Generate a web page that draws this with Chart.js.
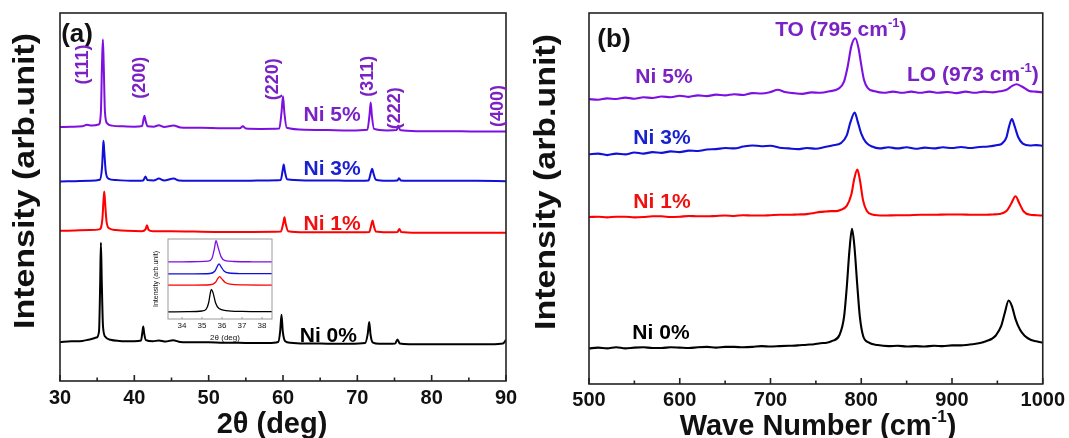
<!DOCTYPE html>
<html>
<head>
<meta charset="utf-8">
<script src="https://cdn.jsdelivr.net/npm/chart.js@4.4.0/dist/chart.umd.min.js"></script>
<style>
  body { margin: 0; background: #fff; }
  #wrap { position: relative; width: 1069px; height: 438px; }
  canvas { position: absolute; }
</style>
</head>
<body>
<div id="wrap">
  <canvas id="xrd" width="530" height="438" style="left:0;top:0"></canvas>
  <canvas id="raman" width="539" height="438" style="left:530px;top:0"></canvas>
  <canvas id="inset" width="142" height="118" style="left:138px;top:230px"></canvas>
</div>
<script>
// sample names, bottom to top
const samples = ['Ni 0%', 'Ni 1%', 'Ni 3%', 'Ni 5%'];
const millerIndex = ['(111)', '(200)', '(220)', '(311)', '(222)', '(400)'];

// XRD patterns [2theta, intensity (arb.)], offset stacked
const xrdNi0 = [[30,10.6],[31.5,10.8],[33,10.9],[34,11.3],[34.9,11.8],[35.25,13.5],[35.4,26],[35.5,37.6],[35.62,27],[35.78,15],[36.1,12],[36.8,11.2],[38,10.9],[40,10.8],[40.9,11],[41.1,13.5],[41.2,14.8],[41.32,13],[41.55,11.1],[42.5,10.8],[43.3,11.0],[44.2,10.7],[45.2,11.1],[46.2,10.6],[48,10.5],[50,10.5],[52,10.4],[54,10.4],[56,10.3],[58,10.3],[59.35,10.6],[59.62,13.5],[59.8,18.0],[59.97,13.5],[60.3,10.8],[61,10.4],[63,10.2],[65,10.2],[67,10.1],[69,10.1],[71.05,10.3],[71.4,12.8],[71.6,16.0],[71.78,12.5],[72.1,10.4],[73,10.1],[75.1,10.2],[75.4,11.3],[75.7,10.2],[77,10.0],[80,10.0],[83,10.0],[86,10.0],[88,10.0],[89.6,10.2],[90,11.2]];
const xrdNi1 = [[30,40.8],[32,40.9],[34,41.0],[35.3,41.2],[35.7,44],[35.85,49],[35.95,51.5],[36.05,49],[36.25,43.5],[36.6,41.5],[37.5,41.0],[39,40.8],[41,40.7],[41.5,41.2],[41.7,42.3],[41.9,41.1],[42.5,40.7],[45,40.7],[48,40.6],[52,40.5],[56,40.5],[59.7,40.6],[60.05,43],[60.2,44.5],[60.35,42.8],[60.7,40.7],[63,40.4],[66,40.4],[69,40.4],[71.6,40.5],[71.9,42.6],[72.05,43.6],[72.2,42.3],[72.5,40.6],[74,40.4],[75.4,40.5],[75.65,41.3],[75.9,40.5],[78,40.3],[82,40.3],[86,40.3],[90,40.3]];
const xrdNi3 = [[30,54.2],[32,54.3],[34,54.4],[35.35,54.7],[35.65,58],[35.78,63],[35.85,65.3],[35.95,62.5],[36.15,57],[36.5,55],[37.5,54.6],[39.5,54.4],[41.2,54.5],[41.5,55.6],[41.75,54.6],[42.6,54.5],[43.3,55.0],[44,54.5],[45.3,55.0],[46,54.5],[49,54.4],[52,54.4],[55,54.4],[58,54.5],[59.7,54.6],[59.95,57.2],[60.1,58.8],[60.25,57],[60.55,54.8],[63,54.5],[66,54.5],[69,54.4],[71.5,54.5],[71.8,56.5],[72.0,57.7],[72.15,56.6],[72.5,54.7],[74,54.4],[75.4,54.5],[75.6,55.1],[75.85,54.5],[78,54.4],[82,54.4],[86,54.4],[90,54.3]];
const xrdNi5 = [[30,69.0],[31.5,69.1],[33,69.2],[33.6,69.6],[34.3,69.4],[35.2,69.7],[35.5,73],[35.65,86],[35.77,92.8],[35.88,86],[36.05,73],[36.35,70],[37,69.4],[38.5,69.2],[40,69.1],[41.05,69.3],[41.25,71.3],[41.36,72.1],[41.5,70.8],[41.8,69.2],[42.6,69.1],[43.3,69.5],[44,69.0],[45.3,69.4],[46.2,68.9],[49,68.8],[52,68.7],[54.2,68.7],[54.6,69.2],[55,68.6],[57,68.5],[59.5,68.6],[59.8,73],[60.0,77.4],[60.18,73],[60.5,68.8],[63,68.3],[66,68.2],[69,68.1],[71.35,68.3],[71.65,72.5],[71.8,75.7],[71.95,72.2],[72.25,68.5],[74,68.1],[75.3,68.2],[75.5,69.4],[75.75,68.2],[78,67.9],[82,67.9],[86,67.8],[90,67.8]];

// inset: (111) peak region
const insetNi0 = [[33.3,8.8],[34.3,9.2],[35.0,10],[35.2,12],[35.33,20],[35.42,33],[35.47,37.1],[35.55,33],[35.68,20],[35.85,13],[36.2,10.5],[37,9.5],[38.5,9.2]];
const insetNi1 = [[33.3,42.3],[34.5,42.4],[35.4,42.8],[35.68,46],[35.8,51],[35.88,53],[35.98,50.5],[36.15,46],[36.4,43.5],[37,42.6],[38.5,42.4]];
const insetNi3 = [[33.3,56.3],[34.5,56.5],[35.4,56.9],[35.65,60],[35.78,66.5],[35.85,69],[35.95,65.5],[36.1,60],[36.35,57.5],[37,56.8],[38.5,56.6]];
const insetNi5 = [[33.3,71.3],[34,71.4],[34.8,71.7],[35.3,72.3],[35.5,76],[35.62,88],[35.7,98],[35.8,90],[35.95,78],[36.15,73],[36.6,71.9],[37.5,71.5],[38.5,71.3]];

// Raman spectra [wavenumber cm-1, intensity (arb.)]
const ramanNi0 = [[500,9.6],[510,9.8],[520,9.6],[530,9.9],[540,9.6],[550,9.8],[560,9.9],[570,9.7],[580,9.7],[590,9.9],[600,9.8],[610,9.7],[620,9.9],[630,10.0],[640,9.8],[650,10.0],[660,10.0],[670,9.9],[680,10.0],[690,10.2],[700,10.1],[710,10.2],[720,10.3],[730,10.4],[740,10.6],[748,10.7],[755,11.0],[762,11.1],[768,11.6],[776,13.2],[781,18],[784,26],[787,36],[789.8,41.8],[792.5,37],[795.5,27],[798.5,18],[802,13],[808,11.2],[818,10.5],[830,10.2],[840,10.3],[850,10.1],[860,10.2],[870,10.1],[880,10.3],[890,10.2],[900,10.4],[910,10.4],[918,10.6],[925,10.8],[932,11.1],[938,11.6],[944,12.2],[948,13],[954,15.5],[958,19],[962.4,22.5],[966,21],[970,17.5],[975,14.6],[980,13.0],[986,12],[993,11.5],[1000,11.1]];
const ramanNi1 = [[500,45.0],[510,45.1],[520,44.9],[530,45.1],[540,45.1],[550,44.9],[560,45.0],[570,45.2],[580,45.2],[590,45.0],[600,45.1],[610,45.3],[620,45.2],[630,45.2],[640,45.3],[650,45.4],[660,45.3],[670,45.5],[680,45.4],[690,45.4],[700,45.5],[710,45.6],[720,45.6],[730,45.7],[740,45.8],[748,46.1],[755,46.4],[761,46.5],[767,46.6],[772,46.6],[777,46.9],[784,48],[789,51],[792.5,55.5],[795.7,57.8],[798.5,55],[802,49.5],[806,46.7],[812,45.7],[825,45.4],[840,45.5],[850,45.5],[865,45.6],[880,45.6],[895,45.7],[910,45.7],[922,45.6],[935,45.6],[945,45.7],[952,45.8],[960,46.6],[965,48.5],[970,50.6],[974,48.8],[979,46.5],[986,45.6],[993,45.5],[1000,45.4]];
const ramanNi3 = [[500,61.9],[510,62.1],[520,61.7],[530,62.1],[540,61.9],[550,62.4],[560,62.1],[570,62.5],[580,62.3],[590,62.7],[600,62.5],[610,62.9],[620,62.8],[630,63.2],[640,63.3],[650,63.6],[660,63.5],[670,64.0],[680,64.3],[690,64.1],[700,64.2],[710,63.7],[720,63.5],[730,63.3],[740,63.6],[750,63.4],[760,63.9],[768,64.3],[778,65.0],[784,67],[788,70.5],[792.8,73.2],[796,70.8],[800,67.5],[805,65.2],[812,64.0],[820,63.5],[830,63.8],[840,63.5],[850,63.8],[860,63.4],[870,63.7],[880,63.5],[890,63.8],[900,63.6],[910,63.9],[920,63.6],[930,63.9],[940,64.0],[950,64.4],[955,64.8],[960,66.5],[963,69.5],[966,71.4],[969,69.5],[973,66.5],[978,64.8],[986,64.3],[993,64.4],[1000,64.2]];
const ramanNi5 = [[500,76.8],[510,76.6],[520,77.0],[530,76.8],[540,77.2],[550,76.9],[560,77.3],[570,77.1],[580,77.5],[590,77.3],[600,77.7],[610,77.4],[620,77.8],[630,77.6],[640,78.0],[650,77.8],[660,78.1],[670,77.9],[680,78.4],[690,78.3],[700,78.7],[708,79.3],[716,78.7],[725,78.4],[735,78.2],[745,78.6],[755,78.5],[765,78.9],[775,79.6],[781,81.5],[785,85.5],[789,91],[793.5,93.2],[797,90.5],[800,86],[803,82],[807,79.8],[815,78.9],[825,78.5],[835,78.8],[845,78.5],[855,78.8],[865,78.5],[875,78.8],[885,78.5],[895,78.7],[905,78.4],[915,78.8],[925,78.5],[935,78.8],[945,78.6],[955,79.0],[960,79.3],[966,80.3],[971,80.8],[977,80.2],[985,79.0],[992,78.8],[1000,78.6]];

const lineColors = ['#000000', '#ff0000', '#1010d8', '#7d10e0'];
const textColors = ['#000000', '#f01010', '#1a22d0', '#7b22c4'];
const FONT = "'Liberation Sans', Arial, sans-serif";

const toXY = arr => arr.map(([x, y]) => ({ x, y }));

function series(arrs, width) {
  return arrs.map((a, i) => ({
    label: samples[i],
    data: toXY(a),
    borderColor: lineColors[i],
    borderWidth: width,
    pointRadius: 0,
    cubicInterpolationMode: 'monotone',
    fill: false
  }));
}

// frame box + inward tick marks along the bottom axis
const framePlugin = {
  id: 'frame',
  afterDatasetsDraw(chart, args, opts) {
    const { ctx, chartArea: a, scales: { x } } = chart;
    ctx.save();
    ctx.strokeStyle = opts.color;
    ctx.lineWidth = opts.width;
    ctx.strokeRect(a.left, a.top, a.right - a.left, a.bottom - a.top);
    x.ticks.forEach(t => {
      const px = x.getPixelForValue(t.value);
      const len = t.label !== '' ? opts.major : opts.minor;
      ctx.beginPath();
      ctx.moveTo(px, a.bottom);
      ctx.lineTo(px, a.bottom - len);
      ctx.stroke();
    });
    ctx.restore();
  }
};

// text annotations; x/y in data units unless px is set, sx stretches along the text
const notesPlugin = {
  id: 'notes',
  afterDraw(chart, args, opts) {
    const { ctx, scales: { x, y } } = chart;
    (opts.items || []).forEach(n => {
      const px = n.px ? n.x : x.getPixelForValue(n.x);
      const py = n.px ? n.y : y.getPixelForValue(n.y);
      const weight = n.normal ? '' : 'bold ';
      const main = weight + n.size + 'px ' + FONT;
      const small = weight + Math.round(n.size * 0.6) + 'px ' + FONT;
      const parts = [[n.text, main, 0]];
      if (n.sup) parts.push([n.sup, small, -n.size * 0.32], [n.tail || '', main, 0]);
      let total = 0;
      parts.forEach(p => { ctx.font = p[1]; total += ctx.measureText(p[0]).width; });
      ctx.save();
      ctx.translate(px, py);
      if (n.rot) ctx.rotate(n.rot * Math.PI / 180);
      if (n.sx) ctx.scale(n.sx, 1);
      ctx.fillStyle = n.color || '#111';
      ctx.textBaseline = 'middle';
      ctx.textAlign = 'left';
      let cx = -total / 2;
      parts.forEach(p => {
        ctx.font = p[1];
        ctx.fillText(p[0], cx, p[2]);
        cx += ctx.measureText(p[0]).width;
      });
      ctx.restore();
    });
  }
};

function xAxis(min, max, step, labelEvery, tickSize, height, pad) {
  return {
    type: 'linear', min, max,
    afterFit: s => { s.height = height; },
    grid: { display: false, drawTicks: false },
    border: { display: false },
    ticks: {
      stepSize: step, autoSkip: false, includeBounds: false, maxRotation: 0,
      padding: pad, color: '#111',
      font: { family: FONT, size: tickSize, weight: tickSize > 12 ? 'bold' : 'normal' },
      callback: v => (Math.abs(v % labelEvery) < 1e-6 ? String(v) : '')
    }
  };
}

function makeChart(id, datasets, xOpts, layout, notes, frame) {
  return new Chart(document.getElementById(id), {
    type: 'line',
    data: { datasets },
    options: {
      responsive: false, animation: false, devicePixelRatio: 1,
      layout: { padding: layout },
      scales: { x: xOpts, y: { display: false, min: 0, max: 100 } },
      plugins: { legend: { display: false }, tooltip: { enabled: false }, frame, notes: { items: notes } }
    },
    plugins: [framePlugin, notesPlugin]
  });
}

// (a) XRD
const xrdNotes = [
  { text: '(a)', x: 32.3, y: 94, size: 26 },
  { text: 'Intensity (arb.unit)', x: 26, y: 181, px: true, rot: -90, size: 29, sx: 1.17 },
  { text: '2θ (deg)', x: 272, y: 425, px: true, size: 29 },
  { text: samples[3], x: 66.6, y: 72.2, size: 21, color: textColors[3] },
  { text: samples[2], x: 66.6, y: 57.5, size: 21, color: textColors[2] },
  { text: samples[1], x: 66.6, y: 42.5, size: 21, color: textColors[1] },
  { text: samples[0], x: 66.1, y: 12.3, size: 21, color: textColors[0] }
];
const millerPos = [[33.15, 86], [40.8, 82.4], [58.6, 82], [71.4, 82.8], [75.1, 74.1], [88.9, 74.7]];
millerIndex.forEach((m, i) => xrdNotes.push({ text: m, x: millerPos[i][0], y: millerPos[i][1], rot: -90, size: 18, color: textColors[3] }));

makeChart('xrd', series([xrdNi0, xrdNi1, xrdNi3, xrdNi5], 2),
  xAxis(30, 90, 5, 10, 20, 57, 5),
  { left: 60, top: 13, right: 24, bottom: 0 }, xrdNotes,
  { color: '#222', width: 1.6, major: 6, minor: 3.5 });

// inset
makeChart('inset', series([insetNi0, insetNi1, insetNi3, insetNi5], 1.3),
  xAxis(33.3, 38.5, 1, 1, 8, 29, 2),
  { left: 30, top: 9, right: 8, bottom: 0 },
  [{ text: 'Intensity (arb.unit)', x: 18, y: 49, px: true, rot: -90, size: 7, normal: true },
   { text: '2θ (deg)', x: 87, y: 108, px: true, size: 8, normal: true }],
  { color: '#9a9a9a', width: 1, major: 2, minor: 0 });

// (b) Raman
const ramanNotes = [
  { text: '(b)', x: 527.5, y: 92.7, size: 26 },
  { text: 'Intensity (arb.unit)', x: 17, y: 182, px: true, rot: -90, size: 29, sx: 1.17 },
  { text: 'Wave Number (cm', sup: '-1', tail: ')', x: 288, y: 427, px: true, size: 29 },
  { text: 'TO (795 cm', sup: '-1', tail: ')', x: 777.5, y: 95.4, size: 21, color: textColors[3] },
  { text: 'LO (973 cm', sup: '-1', tail: ')', x: 923, y: 83.2, size: 21, color: textColors[3] },
  { text: samples[3], x: 582.6, y: 82.7, size: 21, color: textColors[3] },
  { text: samples[2], x: 580.4, y: 66.2, size: 21, color: textColors[2] },
  { text: samples[1], x: 580.4, y: 48.9, size: 21, color: textColors[1] },
  { text: samples[0], x: 579.3, y: 13.8, size: 21, color: textColors[0] }
];

makeChart('raman', series([ramanNi0, ramanNi1, ramanNi3, ramanNi5], 2.1),
  xAxis(500, 1000, 50, 100, 20, 54, 4),
  { left: 59, top: 13, right: 24, bottom: 0 }, ramanNotes,
  { color: '#222', width: 1.6, major: 6, minor: 3.5 });
</script>
</body>
</html>
